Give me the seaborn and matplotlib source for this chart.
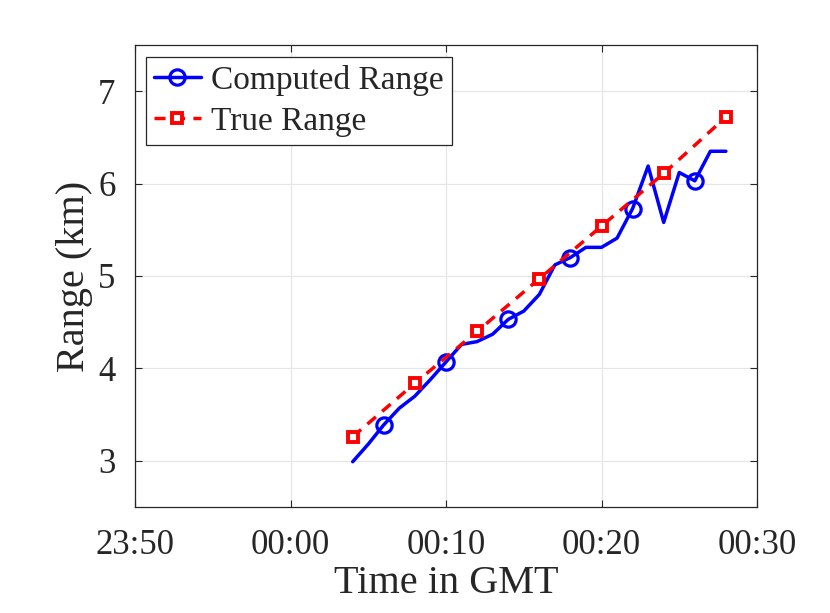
import numpy as np
import pandas as pd
import matplotlib
matplotlib.use("Agg")
import matplotlib.pyplot as plt
import seaborn as sns

# Data (minutes relative to 00:00 GMT)
computed_t = [4, 5, 6, 7, 8, 9, 10, 11, 12, 13, 14, 15, 16, 17, 18, 19, 20,
              21, 22, 23, 24, 25, 26, 27, 28]
computed_range = [2.99, 3.18, 3.39, 3.57, 3.70, 3.88, 4.07, 4.26, 4.29, 4.37,
                  4.53, 4.62, 4.80, 5.12, 5.20, 5.31, 5.31, 5.41, 5.73, 6.19,
                  5.58, 6.12, 6.03, 6.35, 6.35]
true_t = [4, 8, 12, 16, 20, 24, 28]
true_range = [3.26, 3.84, 4.40, 4.97, 5.54, 6.11, 6.72]

xtick_vals = [-10, 0, 10, 20, 30]
xtick_labels = ["23:50", "00:00", "00:10", "00:20", "00:30"]
ytick_vals = [3, 4, 5, 6, 7]

sns.set_style("ticks")
plt.rcParams['font.family'] = ['Liberation Serif', 'DejaVu Serif']
plt.rcParams['mathtext.fontset'] = 'stix'

fig = plt.figure(figsize=(8.3, 6.13), dpi=100)
ax = fig.add_axes([135/830, 1-507/613, (757-135)/830, (507-45)/613])

df_c = pd.DataFrame({"t": computed_t, "r": computed_range})
df_t = pd.DataFrame({"t": true_t, "r": true_range})

sns.lineplot(data=df_c, x="t", y="r", ax=ax, color="#0000ff", linewidth=2.5,
             marker="o", markersize=11, markerfacecolor="none",
             markeredgecolor="#0000ff", markeredgewidth=2.3,
             markevery=slice(2, None, 4), label="Computed Range", zorder=3)
sns.lineplot(data=df_t, x="t", y="r", ax=ax, color="#ff0000", linewidth=2.5,
             linestyle=(0, (3.2, 2.4)), marker="s", markersize=7.5,
             markerfacecolor="white", markeredgecolor="#ff0000",
             markeredgewidth=2.8, label="True Range", zorder=4)

ax.set_xlim(-10, 30)
ax.set_ylim(2.5, 7.5)
ax.set_xticks(xtick_vals)
ax.set_xticklabels(xtick_labels)
ax.set_yticks(ytick_vals)
ax.grid(True, color="#e6e6e6", linewidth=0.9)
ax.set_axisbelow(True)
for s in ax.spines.values():
    s.set_color("#262626")
    s.set_linewidth(0.9)
ax.tick_params(direction="in", length=5, width=0.8, top=True, right=True,
               labelsize=25, colors="#262626")
ax.tick_params(axis="x", pad=16)
ax.tick_params(axis="y", pad=14)
ax.set_xlabel("Time in GMT", fontsize=29, color="#262626", labelpad=2)
ax.set_ylabel("Range (km)", fontsize=29, color="#262626", labelpad=4)

leg = ax.legend(loc="upper left", bbox_to_anchor=(0.0172, 0.9747),
                borderaxespad=0, fontsize=24, frameon=True, fancybox=False,
                framealpha=1, edgecolor="#262626", handlelength=1.4,
                handletextpad=0.3, borderpad=0.25, labelspacing=0.3)
leg.get_frame().set_linewidth(0.9)

fig.savefig("out.png", dpi=100)
